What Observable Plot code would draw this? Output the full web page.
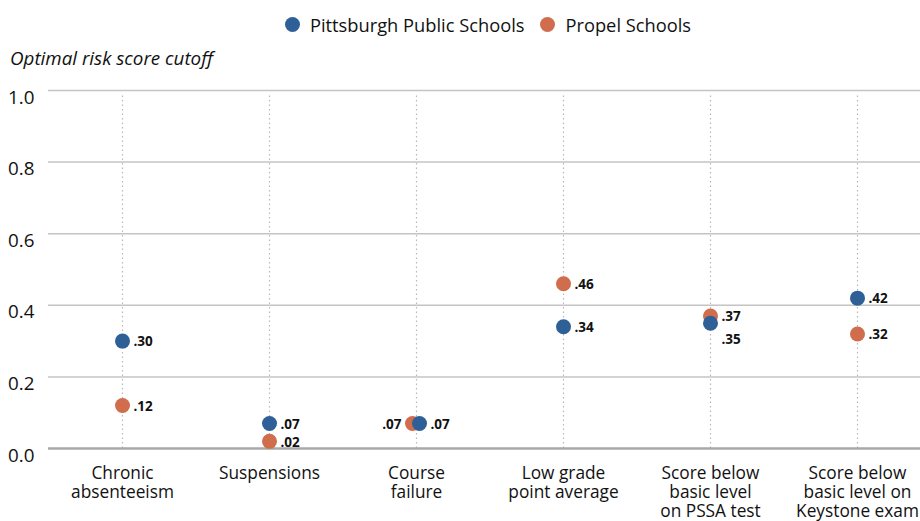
<!DOCTYPE html>
<html><head><meta charset="utf-8">
<script src="https://cdn.jsdelivr.net/npm/d3@7"></script>
<script src="https://cdn.jsdelivr.net/npm/@observablehq/plot@0.6"></script>
<style>
body{margin:0;background:#fff;font-family:"Open Sans",sans-serif;color:#111;}
#legend{height:44px;display:flex;align-items:center;justify-content:center;padding-left:56px;padding-top:4px;box-sizing:border-box;font-size:18.3px;gap:16px;}
#legend span.item{display:flex;align-items:center;gap:10px;}
#legend .sw{width:15px;height:15px;border-radius:50%;display:inline-block;}
#title{height:28px;font-style:italic;font-size:18.8px;padding-left:10px;line-height:28px;}
</style></head>
<body>
<div id="legend"></div>
<div id="title">Optimal risk score cutoff</div>
<div id="chart"></div>
<script>
const categories = ["Chronic\nabsenteeism","Suspensions","Course\nfailure","Low grade\npoint average","Score below\nbasic level\non PSSA test","Score below\nbasic level on\nKeystone exam"];
const series = ["Pittsburgh Public Schools","Propel Schools"];
const ppsValues = [0.30, 0.07, 0.07, 0.34, 0.35, 0.42];
const propelValues = [0.12, 0.02, 0.07, 0.46, 0.37, 0.32];
const ppsLabels = [".30",".07",".07",".34",".35",".42"];
const propelLabels = [".12",".02",".07",".46",".37",".32"];
const yTicks = [0, 0.2, 0.4, 0.6, 0.8, 1.0];
const colors = ["#2e5f97", "#cf6d4c"];

const data = [];
categories.forEach((c,i)=>{
  data.push({cat:c, series:series[1], v:propelValues[i], label:propelLabels[i]});
  data.push({cat:c, series:series[0], v:ppsValues[i], label:ppsLabels[i]});
});

const leg = document.getElementById("legend");
series.forEach((s,i)=>{
  const it=document.createElement("span");it.className="item";
  it.innerHTML=`<span class="sw" style="background:${colors[i]}"></span><span>${s}</span>`;
  leg.appendChild(it);
});

const isCF = d => d.cat === categories[2];
const isPSSA = d => d.cat === categories[4];
const pps = d => d.series === series[0];
const prop = d => d.series === series[1];
const lab = {fontWeight:"bold", fontSize:13.5, fill:"#111"};

const chart = Plot.plot({
  width: 920, height: 449,
  marginLeft: 48, marginRight: 0, marginTop: 18, marginBottom: 73,
  style:{fontFamily:"Open Sans, sans-serif", fontSize:"16px", color:"#111", background:"#fff"},
  x:{type:"point", domain:categories, padding:0, insetLeft:74, insetRight:63, label:null},
  y:{domain:[0,1], label:null},
  color:{domain:series, range:colors},
  marks:[
    Plot.ruleY(yTicks.filter(t=>t>0), {stroke:"#c4c4c4", strokeWidth:1.5}),
    Plot.ruleX(categories, {x:d=>d, y1:0, y2:0.985, stroke:"#b8b8b8", strokeWidth:1.2, strokeDasharray:"1.5,3"}),
    Plot.ruleY([0], {stroke:"#a8a8a8", strokeWidth:2.5}),
    Plot.axisY({ticks:yTicks, tickFormat:d3.format(".1f"), tickSize:0, tickPadding:14, textAnchor:"end", dy:7, fontSize:18.8, fill:"#111"}),
    Plot.axisX({tickSize:0, tickPadding:17, fontSize:17.3, fill:"#111", lineHeight:1.1}),
    Plot.dot(data.filter(d=>!isCF(d)), {x:"cat", y:"v", fill:"series", r:7.5}),
    Plot.dot(data.filter(d=>isCF(d)&&prop(d)), {x:"cat", y:"v", fill:"series", r:7.5, dx:-4}),
    Plot.dot(data.filter(d=>isCF(d)&&pps(d)), {x:"cat", y:"v", fill:"series", r:7.5, dx:3}),
    Plot.text(data.filter(d=>!isCF(d)&&!(isPSSA(d)&&pps(d))), {x:"cat", y:"v", text:"label", textAnchor:"start", dx:11, dy:1, ...lab}),
    Plot.text(data.filter(d=>isPSSA(d)&&pps(d)), {x:"cat", y:"v", text:"label", textAnchor:"start", dx:11, dy:16, ...lab}),
    Plot.text(data.filter(d=>isCF(d)&&pps(d)), {x:"cat", y:"v", text:"label", textAnchor:"start", dx:14, dy:1, ...lab}),
    Plot.text(data.filter(d=>isCF(d)&&prop(d)), {x:"cat", y:"v", text:"label", textAnchor:"end", dx:-15, dy:1, ...lab})
  ]
});
document.getElementById("chart").appendChild(chart);
</script>
</body></html>
